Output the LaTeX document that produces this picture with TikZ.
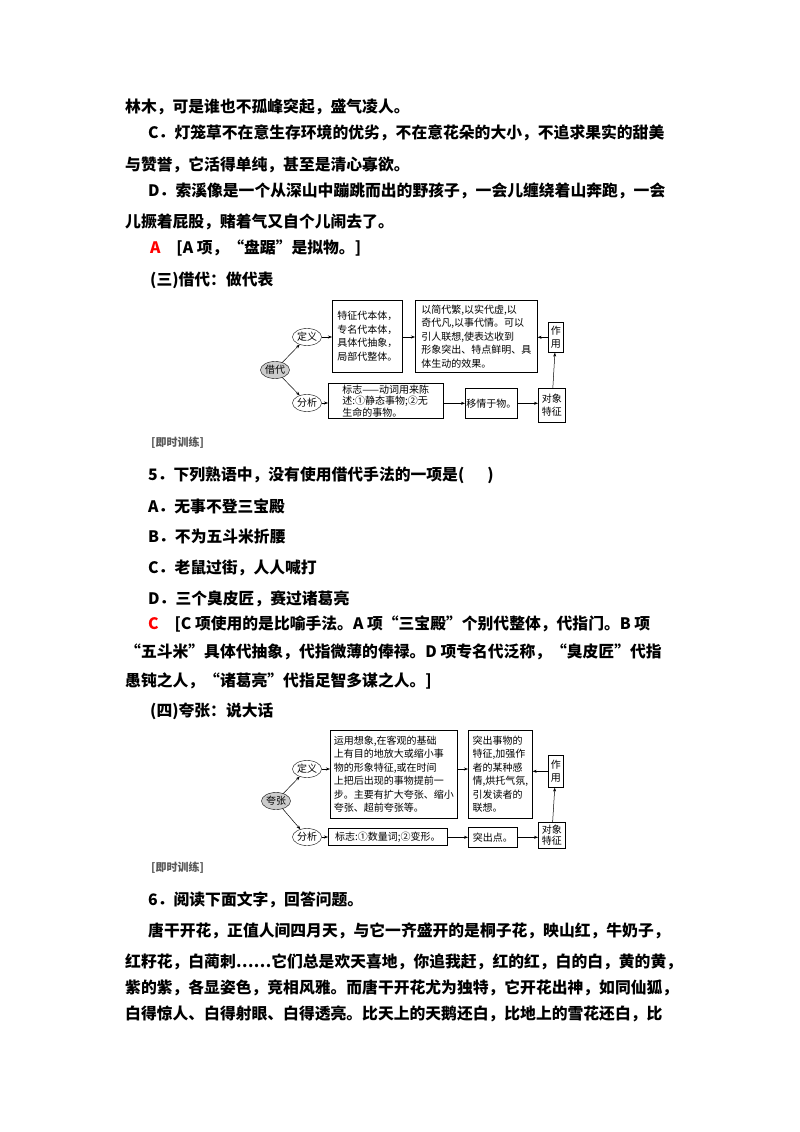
\documentclass[tikz,border=0pt]{standalone}
\usepackage{fontspec}
\setmainfont{Noto Sans CJK SC}
\usetikzlibrary{arrows.meta,shapes.geometric}
\begin{document}
\begin{tikzpicture}[x=1pt,y=-1pt,
  body/.style={anchor=west,inner sep=0pt,font=\fontsize{15.8}{18}\selectfont\bfseries},
  bx/.style={draw,line width=0.6pt,inner sep=2pt,font=\fontsize{10}{13.5}\selectfont,align=left,anchor=north west},
  el/.style={draw,ellipse,inner sep=0pt,minimum width=29pt,minimum height=17pt,font=\fontsize{10}{11}\selectfont},
  ar/.style={-{Stealth[length=4pt,width=3pt]},line width=0.5pt}]
\useasboundingbox (0,0) rectangle (800,1132);
\fill[white] (0,0) rectangle (800,1132);
\node[body] (l1) at (125,107) {林木，可是谁也不孤峰突起，盛气凌人。};
\node[body] (l2) at (148,133) {C．灯笼草不在意生存环境的优劣，不在意花朵的大小，不追求果实的甜美};
\node[body] (l3) at (125,165) {与赞誉，它活得单纯，甚至是清心寡欲。};
\node[body] (l4) at (148,191) {D．索溪像是一个从深山中蹦跳而出的野孩子，一会儿缠绕着山奔跑，一会};
\node[body] (l5) at (125,222) {儿撅着屁股，赌着气又自个儿闹去了。};
\node[body] (l6) at (150,248) {\textcolor{red}{A}\quad[A 项，“盘踞”是拟物。]};
\node[body] (l7) at (150,280) {(三)借代：做代表};
% diagram 1
\node[el,fill=gray!40] (jd) at (275,370) {借代};
\node[el] (dy1) at (307,337) {定义};
\node[el] (fx1) at (307,403) {分析};
\node[bx,minimum width=70pt,minimum height=72pt] (b11) at (332,300) {特征代本体，\\专名代本体，\\具体代抽象，\\局部代整体。};
\node[bx,minimum width=122pt,minimum height=72pt,inner sep=1.5pt] (b12) at (415,300) {以简代繁,以实代虚,以\\奇代凡,以事代情。可以\\引人联想,使表达收到\\形象突出、特点鲜明、具\\体生动的效果。};
\node[bx,minimum width=15pt,minimum height=30pt,align=center,inner sep=1pt] (zy1) at (548,322) {作\\用};
\node[bx,minimum width=115pt,minimum height=35pt,inner sep=1.5pt,font=\fontsize{10}{11.5}\selectfont] (b13) at (328,383) {标志——动词用来陈\\述:①静态事物;②无\\生命的事物。};
\node[bx,minimum width=48pt,minimum height=30pt,align=center,inner sep=1pt] (b14) at (465,388) {移情于物。};
\node[bx,minimum width=27pt,minimum height=34pt,align=center,inner sep=1pt] (dx1) at (538,388) {对象\\特征};
\draw[ar] (jd) -- (dy1); \draw[ar] (jd) -- (fx1);
\draw[ar] (dy1) -- (b11.west|-dy1); \draw[ar] (b11.east|-dy1) -- (b12.west|-dy1);
\draw[ar] (zy1.west) -- (b12.east|-zy1.west);
\draw[ar] (dx1) -- (zy1);
\draw[ar] (fx1) -- (b13.west|-fx1); \draw[ar] (b13.east|-b14) -- (b14);
\draw[ar] (b14) -- (dx1.west|-b14);
% training
\node[anchor=west,inner sep=1pt,font=\fontsize{11}{12}\selectfont\bfseries,text=gray!70!black] (t1) at (150,443) {[即时训练]};
\node[body] (q1) at (148,475) {5．下列熟语中，没有使用借代手法的一项是(\quad\ \ )};
\node[body] (q2) at (148,506) {A．无事不登三宝殿};
\node[body] (q3) at (148,537) {B．不为五斗米折腰};
\node[body] (q4) at (148,568) {C．老鼠过街，人人喊打};
\node[body] (q5) at (148,599) {D．三个臭皮匠，赛过诸葛亮};
\node[body] (q6) at (148,624) {\textcolor{red}{C}\quad[C 项使用的是比喻手法。A 项“三宝殿”个别代整体，代指门。B 项};
\node[body] (q7) at (125,652) {“五斗米”具体代抽象，代指微薄的俸禄。D 项专名代泛称，“臭皮匠”代指};
\node[body] (q8) at (125,681) {愚钝之人，“诸葛亮”代指足智多谋之人。]};
\node[body] (q9) at (150,711) {(四)夸张：说大话};
% diagram 2
\node[el,fill=gray!40] (kz) at (276,801) {夸张};
\node[el] (dy2) at (307,769) {定义};
\node[el] (fx2) at (307,837) {分析};
\node[bx,minimum width=127pt,minimum height=88pt,inner sep=1.5pt] (b21) at (330,730) {运用想象,在客观的基础\\上有目的地放大或缩小事\\物的形象特征,或在时间\\上把后出现的事物提前一\\步。主要有扩大夸张、缩小\\夸张、超前夸张等。};
\node[bx,minimum width=64pt,minimum height=88pt,inner sep=1.5pt] (b22) at (468,730) {突出事物的\\特征,加强作\\者的某种感\\情,烘托气氛,\\引发读者的\\联想。};
\node[bx,minimum width=15pt,minimum height=32pt,align=center,inner sep=1pt] (zy2) at (548,755) {作\\用};
\node[bx,minimum width=119pt,minimum height=17pt,inner sep=1pt] (b23) at (328,828) {标志:①数量词;②变形。};
\node[bx,minimum width=49pt,minimum height=20pt,align=center,inner sep=1pt] (b24) at (468,827) {突出点。};
\node[bx,minimum width=27pt,minimum height=26pt,align=center,inner sep=0.5pt,font=\fontsize{10}{11.5}\selectfont] (dx2) at (538,822) {对象\\特征};
\draw[ar] (kz) -- (dy2); \draw[ar] (kz) -- (fx2);
\draw[ar] (dy2) -- (b21.west|-dy2); \draw[ar] (b21.east|-dy2) -- (b22.west|-dy2);
\draw[ar] (zy2.west) -- (b22.east|-zy2.west);
\draw[ar] (dx2) -- (zy2);
\draw[ar] (fx2) -- (b23.west|-fx2); \draw[ar] (b23.east|-b24) -- (b24);
\draw[ar] (b24) -- (dx2.west|-b24);
\node[anchor=west,inner sep=1pt,font=\fontsize{11}{12}\selectfont\bfseries,text=gray!70!black] (t2) at (150,868) {[即时训练]};
\node[body] (r1) at (148,900) {6．阅读下面文字，回答问题。};
\node[body] (r2) at (148,931) {唐干开花，正值人间四月天，与它一齐盛开的是桐子花，映山红，牛奶子，};
\node[body] (r3) at (125,962) {红籽花，白蔺刺……它们总是欢天喜地，你追我赶，红的红，白的白，黄的黄，};
\node[body] (r4) at (125,988) {紫的紫，各显姿色，竞相风雅。而唐干开花尤为独特，它开花出神，如同仙狐，};
\node[body] (r5) at (125,1014) {白得惊人、白得射眼、白得透亮。比天上的天鹅还白，比地上的雪花还白，比};
\end{tikzpicture}
\end{document}
